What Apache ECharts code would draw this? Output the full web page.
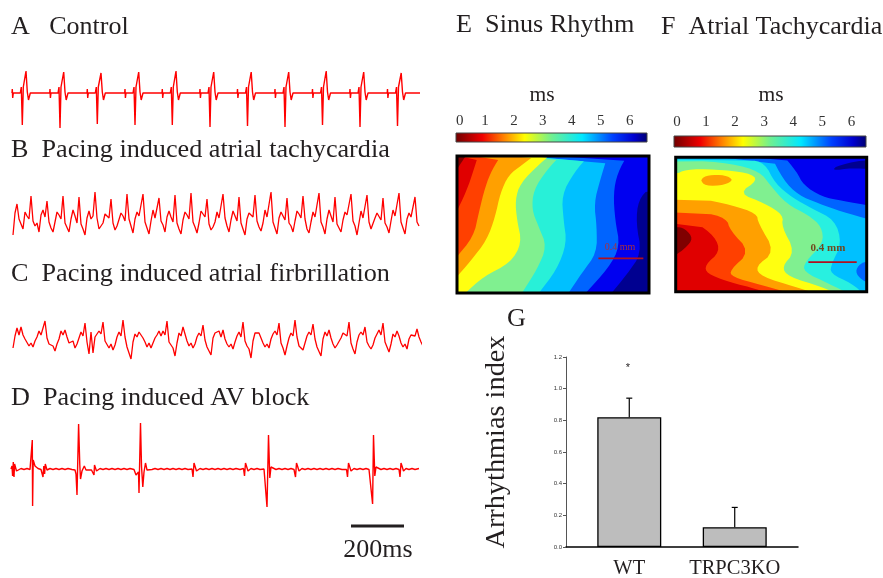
<!DOCTYPE html>
<html><head><meta charset="utf-8">
<script src="https://cdn.jsdelivr.net/npm/echarts@6/dist/echarts.min.js"></script>
<style>html,body{margin:0;padding:0;background:#fff}#c{width:883px;height:578px}</style></head>
<body><div id="c"></div>
<script>
// ---- electrograms: [sample, amplitude]
const traceA = [[2,0],[2.3,.4],[2.7,-.5],[3.3,0],[10.3,0],[11.3,.6],[12.3,-3.2],[13.3,.6],[14.8,.4],[16,2.2],[17.3,.1],[18.5,-.7],[20.3,0],
[39.7,0],[40,.4],[40.4,-.5],[41,0],[48,0],[49,.6],[50,-3.5],[51,.6],[52.5,.4],[53.7,2.1],[55,.1],[56.2,-.7],[58,0],
[77,0],[77.3,.4],[77.7,-.5],[78.3,0],[85.3,0],[86.3,.6],[87.3,-3.1],[88.3,.6],[89.8,.4],[91,2],[92.3,.1],[93.5,-.7],[95.3,0],
[114.7,0],[115,.4],[115.4,-.5],[116,0],[123,0],[124,.6],[125,-3.2],[126,.6],[127.5,.4],[128.7,2.1],[130,.1],[131.2,-.7],[133,0],
[152,0],[152.3,.4],[152.7,-.5],[153.3,0],[160.3,0],[161.3,.6],[162.3,-3.2],[163.3,.6],[164.8,.4],[166,2.2],[167.3,.1],[168.5,-.7],[170.3,0],
[189.7,0],[190,.4],[190.4,-.5],[191,0],[198,0],[199,.6],[200,-3.4],[201,.6],[202.5,.4],[203.7,2.1],[205,.1],[206.2,-.7],[208,0],
[227.2,0],[227.5,.4],[227.9,-.5],[228.5,0],[235.5,0],[236.5,.6],[237.5,-3.3],[238.5,.6],[240,.4],[241.2,2.1],[242.5,.1],[243.7,-.7],[245.5,0],
[264.7,0],[265,.4],[265.4,-.5],[266,0],[273,0],[274,.6],[275,-3.4],[276,.6],[277.5,.4],[278.7,2.1],[280,.1],[281.2,-.7],[283,0],
[302.2,0],[302.5,.4],[302.9,-.5],[303.5,0],[310.5,0],[311.5,.6],[312.5,-3.2],[313.5,.6],[315,.4],[316.2,2.2],[317.5,.1],[318.7,-.7],[320.5,0],
[339.7,0],[340,.4],[340.4,-.5],[341,0],[348,0],[349,.6],[350,-3.4],[351,.6],[352.5,.4],[353.7,2.1],[355,.1],[356.2,-.7],[358,0],
[377.2,0],[377.5,.4],[377.9,-.5],[378.5,0],[385.5,0],[386.5,.6],[387.5,-3.3],[388.5,.6],[390,.4],[391.2,2],[392.5,.1],[393.7,-.7],[395.5,0],[410,0]];
// B and C: one reading every 2 samples
const traceB = [-1.5,.7,1.6,.1,-.4,-.9,.8,.4,.1,2.4,-.1,-.6,-.3,-1.2,.5,1,.3,1.9,-.2,-.8,-1.2,-.2,.8,.5,.1,2.4,-.3,-.5,-1.2,.1,1,.4,-.3,2.3,-.4,-.9,-1.5,.2,.9,.1,.4,2.8,.2,-.9,-.7,-.3,.6,.8,.2,2.1,-.3,-1.0,-.6,-.5,.7,.4,-.1,2.6,.1,-.6,-1.3,.1,.8,.4,.6,2.6,-.2,-.8,-1.4,-.1,1,.2,.1,2.2,-.1,-.5,-1.2,.3,.9,.3,-.2,2.5,-.3,-.9,-1.4,0,.8,.5,.1,2.7,-.2,-.7,-1.3,-.3,.9,.6,.3,2.1,-.4,-1,-.7,-.2,.8,.2,.1,2.6,.2,-.6,-1.2,0,.9,.4,-.1,2.3,-.3,-.9,-1.5,.1,.7,.5,.3,2.5,-.1,-.7,-1.1,-.3,1,.3,.2,2.8,-.2,-.8,-1.4,.2,.8,.4,0,2.2,-.3,-.6,-1.2,-.1,.9,.6,.2,2.4,.1,-.9,-1.3,-.2,.8,.3,.1,2.7,-.2,-.7,-1.4,.1,1,.4,-.2,2.3,-.4,-.8,-1.2,0,.8,.5,.3,2.6,-.1,-.6,-1.5,-.3,.9,.2,.1,2.5,-.2,-.9,-1.1,.2,.7,.6,0,2.2,-.3,-.7,-1.3,-.1,1,.4,.2,2.7,-.2,-.8,-1.4,.1,.7,.3,.2,2.3,-.2,-.6];
const traceC = [-.8,.4,1.2,.5,1.3,.5,.1,.1,-.6,-.3,-.7,-.1,.3,.9,.5,.4,1.9,.2,-.4,-.3,-.6,-1.1,-.4,.1,.9,.5,1,.3,-.3,-.5,-.1,-.8,-.4,.2,.8,.4,1.7,-.2,-1.4,.8,-1.3,.3,.6,.9,.6,1.8,-.1,-.3,-.8,-.4,-1,-.5,.3,.8,.4,2,.3,-.7,-.9,-1.9,-.2,.6,.3,.8,.5,.2,-.2,-.7,-.3,-.8,-.3,.2,.5,.9,.4,.9,.5,1.9,-.2,-.5,-.8,-1.6,-.3,.7,.4,1.3,.6,-.1,-.6,-.3,-.8,-.4,.3,.7,.4,1.5,0,-.7,-.5,-1.5,.2,.7,.5,.9,.3,1,.1,-.4,-.7,-.4,-.9,-.2,.4,.8,.3,1.8,-.1,-.6,-.9,-1.8,-.1,.7,.9,.7,.2,-.3,-.7,-.4,-.8,.1,.6,.9,.5,1.7,-.3,-.8,-1.5,-.6,.2,.7,.4,2,.3,-.6,-.4,-1,-.3,.4,.8,.5,1.6,.1,-.7,-.9,-1.6,.1,.8,.4,1,.2,-.4,-.8,-.5,-.7,.2,.7,.9,.4,1.8,-.3,-.9,-1.4,-.2,.5,.8,.5,1.3,-.2,-.6,-.9,-.5,.2,.6,1,.5,1.7,-.2,-.7,-1.2,-.4,.6,.3,.9,.4,-.3,-.7,-.4,-.9,.1,.5,.7,.4,1.1,.3,-.2,-.6];
const traceD = [[1,0],[2,.3],[2.6,-.7],[3.3,.7],[4,-.8],[4.6,.5],[5.5,.5],[6.5,-.2],[8,-.1],[11,.05],[14,-.05],[17,.05],[20,-.05],[22,-.1],[22.3,2.9],[22.6,-3.7],[23.2,.9],[25,.3],[28,.05],[31,-.05],[32.5,.1],[33,-.8],[33.8,.3],[34.6,-.5],[35.3,.5],[37,-.1],[40,.05],[43,-.05],[46,.05],[49,-.05],[52,.05],[55,-.05],[58,.05],[62,-.05],[65,-.1],[66,-.5],[67,-2.6],[68.6,4.5],[69.8,.4],[70.5,-1],[72,-.2],[74.3,.3],[76,-.1],[78,.1],[81.5,-.1],[84,-.6],[84.5,.4],[85.5,.5],[86.5,-.2],[90,.05],[93,-.05],[96,.05],[99,-.05],[102,.05],[105,-.05],[108,.05],[111,-.05],[114,.05],[117,-.05],[120,.05],[124,-.05],[126,-.6],[128.5,-.3],[129,-2.4],[130.5,4.6],[131.5,.3],[132.8,-1.8],[134,-.3],[135.5,.6],[137,-.1],[139,.05],[142,-.05],[145,.05],[148,-.05],[151,.05],[154,-.05],[157,.05],[160,-.05],[163,.05],[166,-.05],[169,.05],[172,-.05],[175,.05],[178,-.05],[182,0],[183,-.8],[184,.6],[185.3,.5],[186.5,-.2],[190,.05],[193,-.05],[196,.05],[199,-.05],[202,.05],[205,-.05],[208,.05],[211,-.05],[214,.05],[217,-.05],[220,.05],[223,-.05],[226,.05],[230,-.05],[233.5,.05],[234.5,-.7],[235.5,.6],[236.5,.5],[238,-.2],[241,.05],[244,-.05],[247,.05],[250,-.05],[254,0],[256,-.2],[257,-3.8],[258.5,3.4],[259.8,-.9],[261,.2],[263,.2],[266,-.05],[269,.05],[272,-.05],[275,.05],[278,-.05],[281,.05],[284,-.05],[285.5,-.8],[286.5,.6],[287.5,.3],[289,-.2],[292,.05],[295,-.05],[298,.05],[301,-.05],[304,.05],[307,-.05],[310,.05],[313,-.05],[316,.05],[319,-.05],[322,.05],[325,-.05],[328,.05],[332,-.05],[336.5,-.05],[337.5,-.8],[338.5,.6],[339.8,.4],[341,-.2],[344,.05],[347,-.05],[350,.05],[353,-.05],[356,.05],[359,-.05],[361,-.2],[362.6,-3.5],[363.5,3.4],[364.8,-.7],[366,.2],[368,.1],[371,-.05],[374,.05],[377,-.05],[380,.05],[383,-.05],[386,.05],[389,-.05],[390,-.8],[391,.6],[392,.3],[393.5,-.2],[396,.05],[399,-.05],[402,.05],[405,-.05],[409,.05]];
const scaleBar = [[341,-5.7],[394,-5.7]];

// ---- colour key and activation maps
const jetStops = [[0,'#700000'],[.14,'#f00000'],[.25,'#ff8000'],[.36,'#ffff00'],[.5,'#70f090'],[.66,'#00e8ff'],[.82,'#0040ff'],[.93,'#0000d0'],[1,'#000070']];
const keyTicks = [0,1,2,3,4,5,6];
const mapE = [
 {c:'#000090',p:[[-100,200],[700,200],[700,700],[-100,700]]},
 {c:'#0000f0',p:[[700,200],[700,322],[600,322],[565,360],[558,430],[575,520],[530,585],[480,645],[-100,700],[-100,200]]},
 {c:'#0064ff',p:[[-100,200],[535,220],[502,280],[490,340],[495,420],[510,500],[475,565],[402,645],[-100,700]]},
 {c:'#00c0ff',p:[[-100,200],[475,220],[450,300],[432,370],[440,440],[440,520],[395,580],[352,645],[-100,700]]},
 {c:'#28f0d8',p:[[-100,200],[420,222],[370,280],[335,345],[340,420],[350,490],[320,570],[262,645],[-100,700]]},
 {c:'#80f090',p:[[-100,200],[335,222],[290,270],[250,330],[245,390],[265,440],[290,500],[260,570],[212,645],[-100,700]]},
 {c:'#ffff10',p:[[-100,200],[305,222],[270,250],[210,310],[195,360],[200,420],[215,490],[180,550],[100,590],[40,645],[-100,700]]},
 {c:'#ffa000',p:[[-100,200],[260,222],[215,255],[175,285],[150,340],[135,410],[110,480],[60,545],[12,600],[-100,700]]},
 {c:'#ff4000',p:[[-100,200],[155,222],[125,270],[105,320],[85,400],[70,470],[12,540],[-100,700]]},
 {c:'#e00000',p:[[-100,200],[85,222],[70,270],[50,330],[12,410],[-100,500]]},
 {c:'#800000',p:[[-100,200],[50,222],[35,245],[12,280],[-100,300]]}
];
const mapF = [
 {c:'#0000f0',p:[[-100,200],[700,200],[700,700],[-100,700]]},
 {c:'#000090',p:[[500,272],[520,255],[620,236],[620,268],[560,264]]},
 {c:'#0064ff',p:[[-100,200],[350,222],[395,275],[415,315],[470,350],[530,362],[620,378],[700,700],[-100,700]]},
 {c:'#00c0ff',p:[[-100,200],[315,222],[355,300],[400,345],[460,370],[530,395],[620,420],[700,700],[-100,700]]},
 {c:'#0064ff',p:[[570,575],[585,550],[620,540],[620,612],[590,600]]},
 {c:'#28f0e0',p:[[-100,236],[250,238],[300,250],[330,310],[385,355],[440,385],[510,420],[530,490],[500,550],[495,580],[560,610],[600,645],[-100,700]]},
 {c:'#80f090',p:[[-100,245],[60,240],[200,250],[285,275],[315,315],[365,372],[430,405],[470,440],[475,490],[420,545],[415,575],[490,610],[560,645],[-100,700]]},
 {c:'#ffff10',p:[[-100,292],[32,285],[60,268],[150,268],[250,278],[280,300],[220,340],[300,370],[355,405],[350,440],[390,515],[350,560],[370,590],[470,620],[525,645],[-100,700]]},
 {c:'#ffa000',p:[[105,298],[130,285],[180,285],[205,300],[180,315],[120,318]]},
 {c:'#ffa000',p:[[-100,355],[100,355],[200,375],[275,400],[280,430],[330,515],[270,560],[290,590],[390,620],[470,645],[-100,700]]},
 {c:'#ff4000',p:[[-100,392],[110,395],[185,415],[195,450],[255,515],[195,570],[200,590],[290,615],[400,645],[-100,700]]},
 {c:'#e00000',p:[[-100,415],[90,425],[150,470],[165,515],[120,555],[125,580],[190,605],[280,628],[320,645],[-100,700]]},
 {c:'#800000',p:[[-100,440],[32,440],[60,445],[85,475],[60,505],[32,525],[-100,525]]}
];
const mapEBar = [[445,536],[580,536]];
const mapFBar = [[430,546],[575,546]];

// ---- arrhythmia index
const groups = ['WT','TRPC3KO'];
const indexMean = [0.82,0.125];
const indexErr = [0.94,0.25];

const serif = '"Liberation Serif","Times New Roman",serif';
const ink = '#231f20';
const grids=[],xAxes=[],yAxes=[],series=[];
function addGrid(g,x,y){const i=grids.length;grids.push(Object.assign({outerBoundsMode:'none'},g));
 xAxes.push(Object.assign({gridIndex:i,type:'value',show:false},x));
 yAxes.push(Object.assign({gridIndex:i,type:'value',show:false},y));return i;}
function addTrace(d,base,half,w){
 const i=addGrid({left:10,width:410,top:base-half*10,height:half*20},{min:0,max:410},{min:-half,max:half});
 series.push({type:'line',xAxisIndex:i,yAxisIndex:i,data:d,symbol:'none',silent:true,lineStyle:{color:'#ff0000',width:w},z:3});
 return i;}
addTrace(traceA,93,5,1.4);
addTrace(traceB.map((v,k)=>[3+k*2,v]),220,3,1.3);
addTrace(traceC.map((v,k)=>[3+k*2,v]),340,3,1.3);
const di=addTrace(traceD,469,6,1.4);
series.push({type:'line',xAxisIndex:di,yAxisIndex:di,data:scaleBar,symbol:'none',silent:true,lineStyle:{color:ink,width:3,cap:'butt'}});

function addKey(left,top,w,h,min,max,opts){
 const i=addGrid({left,top,width:w,height:h},
  {show:true,min,max,position:'top',axisLine:{show:false},axisTick:{show:false},splitLine:{show:false},
   axisLabel:Object.assign({customValues:keyTicks,fontFamily:serif,fontSize:15,color:'#333',margin:4},opts)},
  {min:0,max:1});
 series.push({type:'custom',xAxisIndex:i,yAxisIndex:i,silent:true,data:[[min,0,max,1]],
  renderItem:(p,api)=>{const a=api.coord([api.value(0),api.value(1)]),b=api.coord([api.value(2),api.value(3)]);
   return {type:'rect',shape:{x:a[0],y:b[1],width:b[0]-a[0],height:a[1]-b[1]},
    style:{fill:new echarts.graphic.LinearGradient(0,0,1,0,jetStops.map(s=>({offset:s[0],color:s[1]}))),stroke:'#444',lineWidth:1}};}});
}
addKey(456,133,191,9,0,6.6,{alignMinLabel:'left'});
addKey(674,136,192,11,-0.1,6.5,{margin:6});

// rounds the drawn contour lines only; points far outside the field close the shape
const far=q=>q[0]<=-100||q[0]>=700||q[1]<=200||q[1]>=700;
function rounded(pts){
 let out=pts;
 for(let r=0;r<2;r++){const n=[];
  const closed=!out.some(far);
  for(let i=0;i<out.length;i++){
   const a=out[i],b=out[(i+1)%out.length];
   if(i===out.length-1&&!closed){n.push(a);break;}
   if(far(a)||far(b)){n.push(a);continue;}
   n.push([a[0]*.75+b[0]*.25,a[1]*.75+b[1]*.25],[a[0]*.25+b[0]*.75,a[1]*.25+b[1]*.75]);
  }
  out=n;}
 return out;
}
function addMap(left,top,w,h,x0,x1,y0,y1,bands,bar){
 const i=addGrid({left,top,width:w,height:h},{min:x0,max:x1},{min:y0,max:y1,inverse:true});
 series.push({type:'custom',xAxisIndex:i,yAxisIndex:i,silent:true,clip:true,data:bands.map((b,k)=>[k]),
  renderItem:(p,api)=>{const b=bands[p.dataIndex];
   return {type:'polygon',shape:{points:rounded(b.p).map(q=>api.coord(q))},style:{fill:b.c}};},z:2});
 series.push({type:'custom',xAxisIndex:i,yAxisIndex:i,silent:true,data:[[x0,y0,x1,y1]],z:4,
  renderItem:(p,api)=>{const a=api.coord([api.value(0),api.value(1)]),b=api.coord([api.value(2),api.value(3)]);
   return {type:'rect',shape:{x:a[0],y:a[1],width:b[0]-a[0],height:b[1]-a[1]},style:{fill:'none',stroke:'#000',lineWidth:3}};}});
 series.push({type:'line',xAxisIndex:i,yAxisIndex:i,data:bar,symbol:'none',silent:true,lineStyle:{color:'#b01020',width:1.6},z:5});
}
addMap(457,156,192,137,20,597,228,640,mapE,mapEBar);
addMap(675.7,157.3,191,134.5,32,605,232,635,mapF,mapFBar);

const gi=addGrid({left:566,top:357,width:232,height:190},
 {show:true,min:-0.6,max:1.6,axisLine:{lineStyle:{color:'#000',width:1.5}},axisTick:{show:false},splitLine:{show:false},
  axisLabel:{customValues:[0,1],formatter:v=>groups[v],fontFamily:serif,fontSize:20.5,color:ink,margin:11}},
 {show:true,min:0,max:1.2,interval:.2,axisLine:{show:true,onZero:false,lineStyle:{color:'#555',width:1}},axisTick:{show:true,length:3,lineStyle:{color:'#555'}},splitLine:{show:false},
  axisLabel:{formatter:v=>v.toFixed(1),fontFamily:'"Liberation Sans",Arial,sans-serif',fontSize:6,color:'#333',margin:4}});
series.push({type:'bar',xAxisIndex:gi,yAxisIndex:gi,barWidth:64,silent:true,data:indexMean.map((v,k)=>[k,v]),itemStyle:{color:'#bdbdbd',borderColor:'#000',borderWidth:1.3}});
series.push({type:'custom',xAxisIndex:gi,yAxisIndex:gi,silent:true,data:indexMean.map((v,k)=>[k,v,indexErr[k]]),z:4,
 renderItem:(p,api)=>{const a=api.coord([api.value(0),api.value(1)]),b=api.coord([api.value(0),api.value(2)]);
  const st={stroke:'#000',lineWidth:1.2};
  return {type:'group',children:[{type:'line',shape:{x1:a[0],y1:a[1],x2:b[0],y2:b[1]},style:st},{type:'line',shape:{x1:b[0]-3,y1:b[1],x2:b[0]+3,y2:b[1]},style:st}]};}});

function t(x,y,s,size,o){return {type:'text',x,y,z:20,silent:true,style:Object.assign({text:s,fontFamily:serif,fontSize:size,fill:ink,textVerticalAlign:'middle',textAlign:'left'},o||{})};}
const texts=[
 t(11,27,'A   Control',26), t(11,150,'B  Pacing induced atrial tachycardia',26.2),
 t(11,274,'C  Pacing induced atrial firbrillation',26.2), t(11,398,'D  Pacing induced AV block',26.2),
 t(456,25.5,'E  Sinus Rhythm',26.2), t(661,27,'F  Atrial Tachycardia',26), t(507,319,'G',26.2),
 t(542,95,'ms',21.5,{textAlign:'center'}), t(771,95,'ms',21.5,{textAlign:'center'}),
 t(378,550,'200ms',26,{textAlign:'center'}),
 t(620,247,'0.4 mm',10,{textAlign:'center',fill:'#a83040'}), t(828,248,'0.4 mm',11,{textAlign:'center',fill:'#6f4a20',fontWeight:'bold'}),
 t(628,368,'*',11,{textAlign:'center',fontFamily:'"Liberation Sans",sans-serif'}),
 Object.assign(t(0,0,'Arrhythmias index',28.3,{textAlign:'center'}),{x:497,y:442,rotation:Math.PI/2})
];
const chart=echarts.init(document.getElementById('c'),null,{renderer:'canvas'});
chart.setOption({animation:false,backgroundColor:'#fff',grid:grids,xAxis:xAxes,yAxis:yAxes,series,graphic:{elements:texts}});
</script></body></html>
